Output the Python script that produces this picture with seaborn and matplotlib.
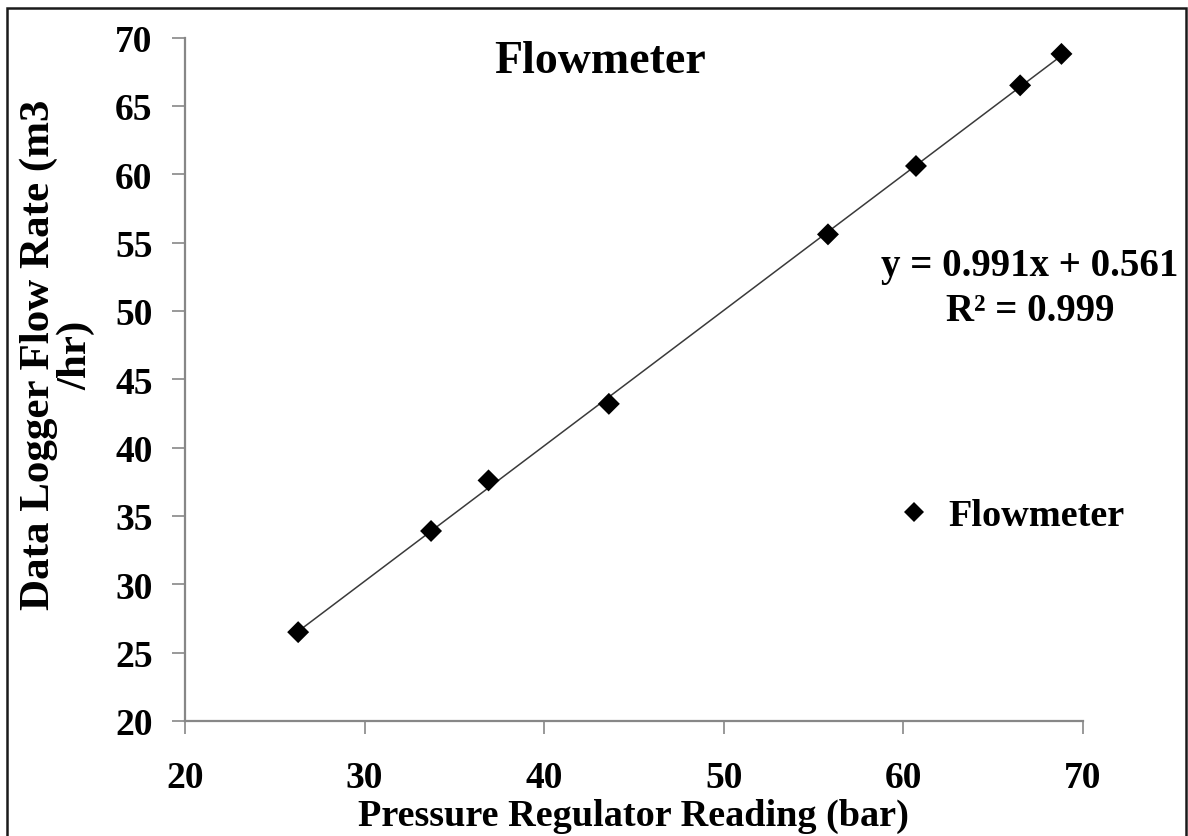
import numpy as np
import pandas as pd
import seaborn as sns
import matplotlib.pyplot as plt
from matplotlib.patches import Rectangle

# values
pressure = [26.3, 33.7, 36.9, 43.6, 55.8, 60.7, 66.5, 68.8]
flow_rate = [26.5, 33.9, 37.6, 43.2, 55.6, 60.6, 66.5, 68.8]
series_name = "Flowmeter"
x_ticks = [20, 30, 40, 50, 60, 70]
y_ticks = [20, 25, 30, 35, 40, 45, 50, 55, 60, 65, 70]
eq_text = "y = 0.991x + 0.561"
r2_text = "R\u00b2 = 0.999"

df = pd.DataFrame({"pressure": pressure, "flow": flow_rate, "series": series_name})

sns.set_style("ticks")
plt.rcParams["font.family"] = ["Liberation Serif", "DejaVu Serif"]
plt.rcParams["font.weight"] = "bold"
plt.rcParams["text.color"] = "black"
plt.rcParams["axes.labelcolor"] = "black"

W, H = 1188, 837
fig = plt.figure(figsize=(W / 100, H / 100), dpi=100)
fig.patch.set_facecolor("white")
ax = fig.add_axes([185 / W, 1 - 722 / H, (1083 - 185) / W, (722 - 38.5) / H])

sns.regplot(data=df, x="pressure", y="flow", scatter=False, ci=None, ax=ax,
            line_kws={"color": "#3a3a3a", "linewidth": 1.1})
sns.scatterplot(data=df, x="pressure", y="flow", hue="series", palette=["black"],
                marker="D", s=125, edgecolor="black", linewidth=0, ax=ax, zorder=3)

ax.set_xlim(20, 70)
ax.set_ylim(20, 70)
ax.set_xticks(x_ticks)
ax.set_yticks(y_ticks)
sns.despine(ax=ax)
for side in ["left", "bottom"]:
    ax.spines[side].set_color("#878787")
    ax.spines[side].set_linewidth(1.6)
ax.tick_params(axis="both", direction="out", length=9.4, width=1.2, color="#878787",
               labelsize=27, labelcolor="black")
ax.tick_params(axis="x", pad=19)
ax.tick_params(axis="y", pad=14)
for lab in ax.get_xticklabels() + ax.get_yticklabels():
    lab.set_fontweight("bold")

ax.set_xlabel("Pressure Regulator Reading (bar)", fontsize=27.5, fontweight="bold")
ax.xaxis.set_label_coords(0.4995, -0.112)
ax.set_ylabel("Data Logger Flow Rate (m3\n/hr)", fontsize=31, fontweight="bold",
              linespacing=0.95)
ax.yaxis.set_label_coords(-0.1, 0.537)

ax.text(0.462, 0.9495, "Flowmeter", transform=ax.transAxes, ha="center", va="baseline",
        fontsize=33, fontweight="bold")
ax.text(0.941, (722 - 276) / 683.5, eq_text, transform=ax.transAxes, ha="center",
        va="baseline", fontsize=28, fontweight="bold")
ax.text(0.941, (722 - 321) / 683.5, r2_text, transform=ax.transAxes, ha="center",
        va="baseline", fontsize=28, fontweight="bold")

leg = ax.legend(loc="center left", bbox_to_anchor=(0.79, (722 - 517) / 683.5),
                frameon=False, fontsize=27.5, handletextpad=0.4, handlelength=1.0,
                borderaxespad=0, borderpad=0, markerscale=0.9)
for t in leg.get_texts():
    t.set_fontweight("bold")
    t.set_color("black")

# outer frame of the exported chart
fig.patches.append(Rectangle((7 / W, -0.01), (1186 - 7) / W, (H - 9) / H + 0.01,
                             transform=fig.transFigure, fill=False,
                             edgecolor="#1a1a1a", linewidth=1.8))

fig.savefig("out.png", dpi=100, facecolor="white")
